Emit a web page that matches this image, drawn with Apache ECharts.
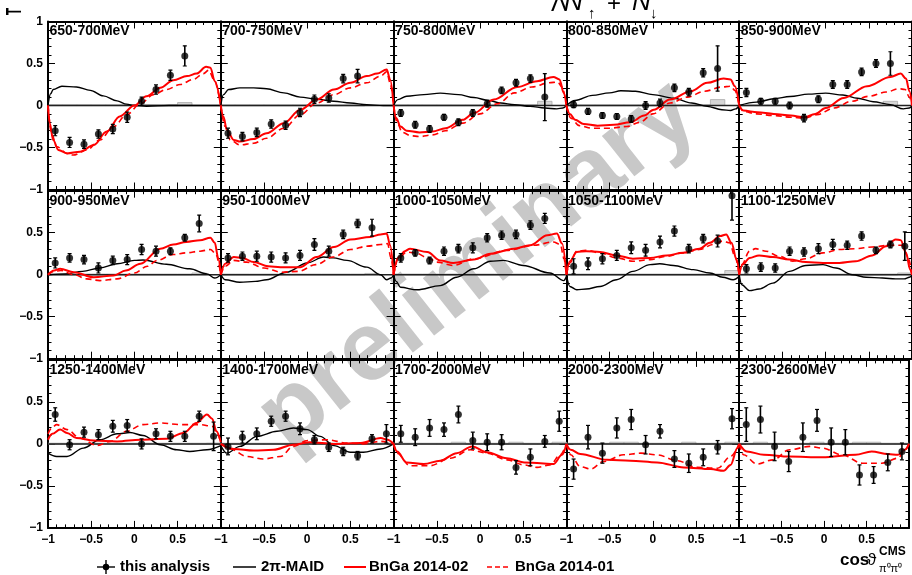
<!DOCTYPE html>
<html><head><meta charset="utf-8">
<script src="https://cdn.jsdelivr.net/npm/echarts/dist/echarts.min.js"></script>
<style>html,body{margin:0;padding:0;background:#fff}#c{width:912px;height:575px}</style>
</head><body><div id="c"></div>
<script>
// ---------- DATA ----------
const energyBins = ['650-700MeV','700-750MeV','750-800MeV','800-850MeV','850-900MeV',
  '900-950MeV','950-1000MeV','1000-1050MeV','1050-1100MeV','1100-1250MeV',
  '1250-1400MeV','1400-1700MeV','1700-2000MeV','2000-2300MeV','2300-2600MeV'];
const cosBins = [-0.9167,-0.75,-0.5833,-0.4167,-0.25,-0.0833,0.0833,0.25,0.4167,0.5833,0.75,0.9167];
const xTicks = [-1,-0.5,0,0.5,1];
const yTicks = [-1,-0.5,0,0.5,1];

const dataY = [
 [-0.30,-0.44,-0.46,-0.34,-0.28,-0.14,0.05,0.19,0.36,0.59,null,null],
 [-0.33,-0.37,-0.32,-0.22,-0.235,-0.083,0.075,0.09,0.32,0.35,null,null],
 [-0.09,-0.23,-0.28,-0.14,-0.2,-0.09,0.02,0.18,0.27,0.32,0.1,null],
 [0.01,-0.07,-0.12,-0.13,-0.16,0.0,0.03,0.21,0.16,0.39,0.44,null],
 [0.155,0.05,0.05,0.0,-0.15,0.075,0.25,0.25,0.4,0.5,0.5,null],
 [0.14,0.2,0.18,0.08,0.17,0.18,0.3,0.28,0.28,0.44,0.61,null],
 [0.2,0.22,0.22,0.21,0.2,0.23,0.36,0.28,0.48,0.61,0.56,null],
 [0.2,0.26,0.17,0.28,0.31,0.32,0.44,0.47,0.48,0.59,0.67,null],
 [0.10,0.13,0.19,0.23,0.32,0.29,0.39,0.52,0.31,0.43,0.40,0.94],
 [0.07,0.09,0.08,0.28,0.27,0.31,0.36,0.35,0.46,0.29,0.36,0.34],
 [0.35,-0.01,0.14,0.11,0.21,0.22,0.0,0.12,0.09,0.09,0.33,0.09],
 [-0.03,0.08,0.12,0.27,0.33,0.18,0.05,-0.04,-0.09,-0.14,0.06,0.12],
 [0.12,0.08,0.19,0.17,0.35,0.04,0.02,0.02,-0.28,-0.16,0.03,0.27],
 [-0.3,0.08,-0.11,0.19,0.29,-0.01,0.15,-0.18,-0.23,-0.16,-0.04,0.3],
 [0.23,0.29,-0.03,-0.21,0.08,0.28,0.02,0.02,-0.37,-0.37,-0.22,-0.09]
];
const dataErr = [
 [0.06,0.06,0.05,0.05,0.055,0.06,0.05,0.055,0.06,0.12,null,null],
 [0.06,0.05,0.05,0.05,0.05,0.05,0.05,0.05,0.05,0.08,null,null],
 [0.04,0.04,0.04,0.035,0.04,0.04,0.04,0.04,0.04,0.045,0.28,null],
 [0.035,0.035,0.035,0.035,0.04,0.045,0.045,0.045,0.045,0.05,0.27,null],
 [0.05,0.035,0.035,0.04,0.045,0.04,0.045,0.045,0.045,0.045,0.14,null],
 [0.06,0.05,0.05,0.06,0.05,0.06,0.06,0.06,0.04,0.04,0.1,null],
 [0.05,0.05,0.06,0.06,0.06,0.06,0.07,0.06,0.05,0.05,0.1,null],
 [0.05,0.04,0.04,0.05,0.05,0.06,0.05,0.05,0.05,0.05,0.06,null],
 [0.09,0.07,0.06,0.06,0.07,0.07,0.07,0.06,0.05,0.05,0.07,0.29],
 [0.05,0.05,0.05,0.05,0.05,0.06,0.06,0.05,0.05,0.04,0.04,0.17],
 [0.08,0.06,0.06,0.06,0.07,0.07,0.06,0.06,0.06,0.06,0.06,0.17],
 [0.1,0.07,0.07,0.06,0.06,0.07,0.05,0.05,0.05,0.05,0.05,0.11],
 [0.1,0.1,0.1,0.08,0.1,0.1,0.1,0.09,0.08,0.1,0.07,0.12],
 [0.12,0.14,0.12,0.12,0.12,0.11,0.08,0.1,0.11,0.1,0.08,0.12],
 [0.2,0.16,0.17,0.12,0.17,0.13,0.17,0.15,0.12,0.1,0.1,0.1]
];
const sysErr = [
 [0.01,0.01,0.01,0.01,0.01,0.01,0.01,0.01,0.01,0.035,0,0],
 [0.008,0.008,0.008,0.008,0.008,0.008,0.008,0.008,0.008,0.008,0,0],
 [0.008,0.008,0.008,0.008,0.008,0.008,0.008,0.008,0.008,0.008,0.05,0],
 [0.008,0.008,0.008,0.008,0.008,0.008,0.008,0.008,0.008,0.008,0.07,0],
 [0.008,0.008,0.008,0.008,0.008,0.008,0.008,0.008,0.008,0.008,0.05,0],
 [0.008,0.008,0.008,0.008,0.008,0.008,0.008,0.008,0.008,0.008,0.02,0],
 [0.008,0.008,0.008,0.008,0.008,0.008,0.008,0.008,0.008,0.008,0.015,0],
 [0.008,0.008,0.008,0.008,0.008,0.008,0.008,0.008,0.008,0.008,0.01,0],
 [0.008,0.008,0.008,0.008,0.008,0.008,0.008,0.008,0.008,0.008,0.008,0.05],
 [0.008,0.008,0.008,0.008,0.008,0.008,0.008,0.008,0.008,0.008,0.008,0.02],
 [0.008,0.008,0.008,0.008,0.008,0.008,0.008,0.008,0.008,0.008,0.008,0.01],
 [0.008,0.008,0.008,0.008,0.008,0.008,0.008,0.008,0.008,0.008,0.008,0.01],
 [0.008,0.008,0.008,0.008,0.02,0.008,0.008,0.008,0.02,0.008,0.008,0.02],
 [0.008,0.008,0.008,0.02,0.02,0.008,0.008,0.008,0.02,0.008,0.008,0.02],
 [0.008,0.02,0.008,0.008,0.008,0.02,0.008,0.008,0.02,0.02,0.008,0.008]
];

// 2pi-MAID curves ([cos, T]) – not available above 1700 MeV
const maidCurves = [
 [[-1,0],[-0.97,0.14],[-0.94,0.19],[-0.84,0.23],[-0.67,0.22],[-0.51,0.18],[-0.36,0.115],[-0.2,0.055],[-0.09,0.016],[0,0],[0.14,-0.01],[0.4,0],[1,0]],
 [[-1,0],[-0.97,0.13],[-0.91,0.19],[-0.78,0.21],[-0.62,0.21],[-0.47,0.2],[-0.27,0.15],[-0.08,0.1],[0.11,0.075],[0.31,0.05],[0.5,0.03],[0.69,0.01],[0.88,0],[1,0]],
 [[-1,0],[-0.95,0.07],[-0.85,0.11],[-0.65,0.13],[-0.46,0.147],[-0.25,0.13],[-0.07,0.095],[0.1,0.06],[0.24,0.03],[0.4,0.01],[0.58,-0.01],[0.75,-0.03],[0.89,-0.04],[0.96,-0.03],[1,0]],
 [[-1,0],[-0.9,0.06],[-0.7,0.12],[-0.5,0.15],[-0.37,0.175],[-0.2,0.17],[0,0.13],[0.24,0.087],[0.45,0.03],[0.63,-0.01],[0.8,-0.05],[0.9,-0.06],[0.96,-0.04],[1,0]],
 [[-1,0],[-0.8,0.04],[-0.6,0.08],[-0.41,0.107],[-0.2,0.135],[0,0.147],[0.2,0.125],[0.37,0.087],[0.55,0.045],[0.75,0.01],[0.9,-0.04],[0.97,-0.03],[1,0]],
 [[-1,0],[-0.8,0.01],[-0.6,0.04],[-0.4,0.08],[-0.2,0.13],[0,0.17],[0.1,0.175],[0.37,0.124],[0.64,0.07],[0.84,0.01],[0.93,-0.04],[1,0]],
 [[-1,0],[-0.95,-0.06],[-0.78,-0.09],[-0.6,-0.08],[-0.47,-0.06],[-0.24,0.03],[0,0.14],[0.19,0.21],[0.3,0.2],[0.46,0.17],[0.69,0.09],[0.85,0.0],[0.92,-0.06],[0.97,-0.04],[1,0]],
 [[-1,0],[-0.97,-0.08],[-0.92,-0.15],[-0.73,-0.18],[-0.46,-0.13],[-0.27,-0.03],[-0.07,0.07],[0.12,0.16],[0.27,0.17],[0.5,0.11],[0.81,0.02],[0.97,-0.07],[1,-0.02]],
 [[-1,0],[-0.96,-0.14],[-0.88,-0.18],[-0.77,-0.17],[-0.61,-0.14],[-0.42,-0.06],[-0.23,0.04],[-0.03,0.12],[0.08,0.13],[0.24,0.11],[0.47,0.06],[0.66,0.02],[0.81,-0.03],[0.93,-0.06],[1,-0.02]],
 [[-1,0],[-0.97,-0.12],[-0.88,-0.19],[-0.77,-0.17],[-0.61,-0.1],[-0.42,0.04],[-0.23,0.11],[-0.03,0.12],[0.12,0.08],[0.31,0.0],[0.47,-0.03],[0.66,-0.04],[0.81,-0.05],[0.91,-0.05],[0.97,-0.03],[1,-0.01]],
 [[-1,-0.11],[-0.9,-0.15],[-0.78,-0.15],[-0.59,-0.05],[-0.4,0.05],[-0.2,0.12],[-0.05,0.135],[0.1,0.1],[0.3,-0.01],[0.49,-0.07],[0.64,-0.09],[0.84,-0.07],[1,-0.02]],
 [[-1,-0.02],[-0.93,-0.11],[-0.78,-0.03],[-0.58,0.09],[-0.35,0.15],[-0.16,0.19],[0,0.17],[0.15,0.09],[0.31,-0.02],[0.5,-0.1],[0.65,-0.1],[0.85,-0.06],[1,0]],
 null, null, null
];
// BnGa 2014-02 (solid red)
const bnga02Curves = [
 [[-1,0],[-0.98,-0.21],[-0.94,-0.41],[-0.88,-0.53],[-0.78,-0.57],[-0.63,-0.55],[-0.47,-0.47],[-0.32,-0.31],[-0.17,-0.13],[0,0],[0.14,0.11],[0.3,0.21],[0.45,0.3],[0.61,0.35],[0.72,0.38],[0.83,0.46],[0.88,0.45],[0.93,0.29],[1,0]],
 [[-1,0],[-0.97,-0.13],[-0.93,-0.29],[-0.85,-0.41],[-0.78,-0.43],[-0.62,-0.4],[-0.47,-0.33],[-0.27,-0.21],[-0.08,-0.05],[0.11,0.07],[0.31,0.19],[0.5,0.27],[0.69,0.35],[0.81,0.38],[0.92,0.43],[0.96,0.31],[1,0]],
 [[-1,0],[-0.97,-0.15],[-0.92,-0.25],[-0.85,-0.3],[-0.7,-0.32],[-0.55,-0.31],[-0.4,-0.27],[-0.2,-0.17],[-0.07,-0.09],[0.16,0.07],[0.43,0.22],[0.66,0.29],[0.85,0.34],[0.92,0.31],[0.97,0.15],[1,0]],
 [[-1,0],[-0.96,-0.1],[-0.9,-0.17],[-0.8,-0.22],[-0.64,-0.24],[-0.45,-0.23],[-0.26,-0.2],[-0.1,-0.12],[0.01,-0.05],[0.2,0.07],[0.44,0.17],[0.63,0.27],[0.82,0.32],[0.9,0.31],[0.95,0.23],[1,0]],
 [[-1,0],[-0.95,-0.06],[-0.79,-0.08],[-0.6,-0.1],[-0.4,-0.12],[-0.25,-0.14],[-0.12,-0.1],[0,-0.03],[0.21,0.09],[0.48,0.23],[0.75,0.34],[0.87,0.38],[0.93,0.32],[0.97,0.17],[1,0]],
 [[-1,0],[-0.93,0.05],[-0.86,0.07],[-0.7,0.03],[-0.47,-0.03],[-0.24,-0.01],[-0.1,0.05],[0.07,0.13],[0.3,0.31],[0.45,0.36],[0.6,0.39],[0.76,0.41],[0.88,0.44],[0.93,0.38],[0.97,0.2],[1,0]],
 [[-1,0],[-0.95,0.13],[-0.85,0.21],[-0.75,0.2],[-0.62,0.15],[-0.45,0.1],[-0.31,0.09],[-0.08,0.09],[0.11,0.21],[0.31,0.33],[0.5,0.42],[0.73,0.45],[0.85,0.48],[0.92,0.49],[0.96,0.35],[1,0]],
 [[-1,0],[-0.95,0.2],[-0.87,0.28],[-0.81,0.31],[-0.61,0.27],[-0.46,0.17],[-0.31,0.14],[-0.07,0.18],[0.12,0.25],[0.39,0.31],[0.58,0.35],[0.78,0.47],[0.89,0.49],[0.95,0.37],[1,0]],
 [[-1,0],[-0.96,0.16],[-0.88,0.27],[-0.77,0.28],[-0.61,0.27],[-0.42,0.23],[-0.23,0.19],[-0.03,0.2],[0.16,0.23],[0.35,0.26],[0.54,0.31],[0.66,0.38],[0.78,0.46],[0.85,0.48],[0.91,0.38],[0.97,0.18],[1,0]],
 [[-1,0],[-0.96,0.12],[-0.88,0.2],[-0.77,0.23],[-0.61,0.21],[-0.42,0.18],[-0.23,0.15],[-0.03,0.14],[0.16,0.14],[0.35,0.16],[0.54,0.23],[0.7,0.34],[0.81,0.42],[0.87,0.41],[0.93,0.26],[0.98,0.06],[1,0]],
 [[-1,0.05],[-0.95,0.12],[-0.86,0.17],[-0.78,0.13],[-0.67,0.07],[-0.47,0.04],[-0.2,0.03],[0.07,0.05],[0.37,0.06],[0.57,0.13],[0.72,0.25],[0.84,0.35],[0.9,0.3],[0.95,0.15],[1,0.02]],
 [[-1,0],[-0.85,-0.06],[-0.62,-0.08],[-0.39,-0.07],[-0.16,-0.01],[0.03,0.02],[0.31,0],[0.62,0.01],[0.85,0.07],[0.93,0.05],[1,0]],
 [[-1,0],[-0.96,-0.09],[-0.85,-0.22],[-0.65,-0.24],[-0.46,-0.2],[-0.27,-0.11],[-0.09,-0.03],[0.08,-0.1],[0.31,-0.17],[0.51,-0.22],[0.7,-0.23],[0.85,-0.24],[0.95,-0.13],[1,0]],
 [[-1,0],[-0.95,-0.07],[-0.84,-0.12],[-0.53,-0.19],[-0.26,-0.2],[0.05,-0.22],[0.36,-0.28],[0.67,-0.3],[0.82,-0.32],[0.9,-0.25],[0.98,-0.05],[1,0]],
 [[-1,0],[-0.91,-0.09],[-0.71,-0.13],[-0.41,-0.15],[-0.02,-0.16],[0.37,-0.13],[0.56,-0.09],[0.75,-0.12],[0.87,-0.13],[0.95,-0.07],[1,0]]
];
// BnGa 2014-01 (dashed red)
const bnga01Curves = [
 [[-1,0],[-0.96,-0.33],[-0.9,-0.49],[-0.78,-0.57],[-0.71,-0.59],[-0.55,-0.53],[-0.4,-0.41],[-0.24,-0.25],[-0.09,-0.11],[0.07,0.02],[0.22,0.13],[0.37,0.19],[0.53,0.25],[0.68,0.31],[0.8,0.38],[0.86,0.42],[0.92,0.31],[1,0]],
 [[-1,0],[-0.95,-0.25],[-0.89,-0.41],[-0.78,-0.47],[-0.62,-0.45],[-0.47,-0.39],[-0.27,-0.27],[-0.08,-0.11],[0.11,0.03],[0.31,0.13],[0.5,0.21],[0.69,0.27],[0.85,0.35],[0.92,0.4],[0.96,0.27],[1,0]],
 [[-1,0],[-0.96,-0.2],[-0.9,-0.32],[-0.8,-0.36],[-0.7,-0.37],[-0.55,-0.35],[-0.4,-0.3],[-0.2,-0.21],[0,-0.1],[0.2,0.02],[0.4,0.15],[0.6,0.22],[0.8,0.27],[0.9,0.28],[0.95,0.22],[1,0]],
 [[-1,0],[-0.95,-0.15],[-0.85,-0.24],[-0.7,-0.27],[-0.5,-0.27],[-0.3,-0.25],[-0.15,-0.2],[0,-0.1],[0.2,0.03],[0.4,0.1],[0.6,0.17],[0.8,0.22],[0.9,0.23],[0.95,0.18],[1,0]],
 [[-1,0],[-0.95,-0.07],[-0.8,-0.1],[-0.6,-0.12],[-0.4,-0.14],[-0.25,-0.15],[-0.1,-0.11],[0.1,-0.03],[0.3,0.05],[0.5,0.11],[0.7,0.16],[0.85,0.2],[0.92,0.19],[0.97,0.1],[1,0]],
 [[-1,0],[-0.93,0.04],[-0.85,0.05],[-0.7,0.0],[-0.55,-0.05],[-0.4,-0.07],[-0.2,-0.05],[0,0.02],[0.15,0.1],[0.26,0.17],[0.45,0.24],[0.6,0.26],[0.76,0.28],[0.88,0.3],[0.94,0.25],[1,0]],
 [[-1,0],[-0.95,0.1],[-0.85,0.17],[-0.7,0.15],[-0.5,0.08],[-0.3,0.03],[-0.1,0.04],[0.1,0.12],[0.3,0.21],[0.5,0.3],[0.7,0.34],[0.85,0.36],[0.93,0.37],[0.97,0.2],[1,0]],
 [[-1,0],[-0.95,0.18],[-0.85,0.27],[-0.75,0.26],[-0.6,0.2],[-0.5,0.15],[-0.31,0.11],[-0.07,0.19],[0.31,0.29],[0.62,0.35],[0.85,0.39],[0.93,0.36],[0.97,0.2],[1,0]],
 [[-1,0],[-0.96,0.14],[-0.88,0.28],[-0.77,0.29],[-0.61,0.26],[-0.42,0.2],[-0.23,0.16],[-0.03,0.18],[0.16,0.22],[0.35,0.26],[0.54,0.3],[0.7,0.36],[0.81,0.4],[0.89,0.38],[0.95,0.22],[1,0]],
 [[-1,0],[-0.97,0.12],[-0.88,0.28],[-0.81,0.31],[-0.69,0.28],[-0.54,0.22],[-0.38,0.16],[-0.23,0.19],[-0.03,0.26],[0.16,0.3],[0.35,0.31],[0.54,0.33],[0.74,0.35],[0.89,0.35],[0.95,0.22],[1,0]],
 [[-1,0.12],[-0.95,0.2],[-0.9,0.23],[-0.78,0.17],[-0.63,0.07],[-0.43,-0.02],[-0.28,0.03],[-0.09,0.15],[0.1,0.23],[0.3,0.25],[0.53,0.23],[0.76,0.23],[0.9,0.21],[0.96,0.12],[1,0.01]],
 [[-1,0],[-0.89,-0.06],[-0.7,-0.15],[-0.51,-0.18],[-0.31,-0.15],[-0.16,-0.03],[0,0.04],[0.23,0.05],[0.46,0.01],[0.65,0],[0.85,0.03],[1,0]],
 [[-1,0],[-0.96,-0.11],[-0.81,-0.26],[-0.58,-0.26],[-0.34,-0.17],[-0.11,-0.07],[0.08,-0.11],[0.31,-0.19],[0.51,-0.25],[0.66,-0.28],[0.81,-0.25],[0.93,-0.13],[1,0]],
 [[-1,0],[-0.95,-0.13],[-0.84,-0.27],[-0.72,-0.3],[-0.57,-0.21],[-0.34,-0.13],[-0.14,-0.11],[0.05,-0.13],[0.28,-0.2],[0.51,-0.28],[0.75,-0.29],[0.9,-0.15],[1,0]],
 [[-1,0],[-0.95,-0.13],[-0.79,-0.24],[-0.6,-0.19],[-0.41,-0.07],[-0.17,-0.03],[-0.02,-0.05],[0.21,-0.13],[0.45,-0.23],[0.68,-0.23],[0.87,-0.17],[0.95,-0.08],[1,0]]
];

// ---------- LAYOUT ----------
const FONT = '"Liberation Sans", Arial, Helvetica, sans-serif';
const NC = 5, colW = 172.8, rowH = 169.2, left0 = 48, top0 = 21.5, panelH = 168;
const fmt = v => (v < 0 ? '\u2212' : '') + String(Math.abs(v));
const binHalf = (cosBins[1] - cosBins[0]) / 2;

const grid = [], xAxis = [], yAxis = [], series = [], graphic = [];

function axisCommon(extra) {
  return Object.assign({
    type: 'value', min: -1, max: 1, interval: 0.5,
    axisLine: { show: true, onZero: false, lineStyle: { color: '#000', width: 2 } },
    axisTick: { show: true, inside: true, length: 7, lineStyle: { color: '#000', width: 1 } },
    minorTick: { show: true, splitNumber: 5, length: 3.5, lineStyle: { color: '#000', width: 1 } },
    splitLine: { show: false }, minorSplitLine: { show: false }
  }, extra);
}
const labelStyle = { color: '#000', fontFamily: FONT, fontWeight: 'bold', fontSize: 12 };

energyBins.forEach((name, i) => {
  const r = Math.floor(i / NC), c = i % NC;
  const gl = left0 + c * colW, gt = top0 + r * rowH;
  grid.push({ left: gl, top: gt, width: colW, height: panelH, containLabel: false });
  xAxis.push(axisCommon({ gridIndex: i, position: 'bottom',
    axisLabel: Object.assign({ show: r === 2, margin: 6, formatter: v => (v === 1 ? '' : fmt(v)) }, labelStyle) }));
  xAxis.push(axisCommon({ gridIndex: i, position: 'top', axisLabel: { show: false } }));
  yAxis.push(axisCommon({ gridIndex: i, position: 'left',
    axisLabel: Object.assign({ show: c === 0, margin: 5, formatter: v => ((r > 0 && v === 1) ? '' : fmt(v)) }, labelStyle) }));
  yAxis.push(axisCommon({ gridIndex: i, position: 'right', axisLabel: { show: false } }));

  const xi = 2 * i, yi = 2 * i;
  // zero line
  series.push({ type: 'line', xAxisIndex: xi, yAxisIndex: yi, data: [[-1, 0], [1, 0]], showSymbol: false,
    lineStyle: { color: '#222', width: 1.5 }, z: 1, silent: true });
  // systematic boxes
  const sysData = cosBins.map((x, k) => [x, sysErr[i][k], dataY[i][k]]).filter(d => d[1] > 0 && d[2] !== null).map(d => [d[0], d[1]]);
  series.push({ type: 'custom', xAxisIndex: xi, yAxisIndex: yi, data: sysData, clip: true, z: 1,
    renderItem: (p, api) => {
      const x = api.value(0), s = api.value(1);
      const a = api.coord([x - binHalf, s]), b = api.coord([x + binHalf, 0]);
      return { type: 'rect', shape: { x: a[0], y: a[1], width: b[0] - a[0], height: Math.max(b[1] - a[1], 1) },
        style: { fill: '#d6d6d6', stroke: '#a8a8a8', lineWidth: 0.8 } };
    } });
  // model curves
  if (maidCurves[i]) series.push({ type: 'line', xAxisIndex: xi, yAxisIndex: yi, data: maidCurves[i], showSymbol: false,
    smooth: 0.35, smoothMonotone: 'x', lineStyle: { color: '#000', width: 1.4 }, z: 2 });
  series.push({ type: 'line', xAxisIndex: xi, yAxisIndex: yi, data: bnga01Curves[i], showSymbol: false,
    smooth: 0.35, smoothMonotone: 'x', lineStyle: { color: '#ff0000', width: 1.6, type: [6, 4] }, z: 2 });
  series.push({ type: 'line', xAxisIndex: xi, yAxisIndex: yi, data: bnga02Curves[i], showSymbol: false,
    smooth: 0.35, smoothMonotone: 'x', lineStyle: { color: '#ff0000', width: 2 }, z: 2 });
  // data points with error bars
  const pts = [];
  cosBins.forEach((x, k) => { if (dataY[i][k] !== null) pts.push([x, dataY[i][k], dataErr[i][k]]); });
  series.push({ type: 'custom', xAxisIndex: xi, yAxisIndex: yi, data: pts, clip: true, z: 4,
    renderItem: (p, api) => {
      const x = api.value(0), y = api.value(1), e = api.value(2);
      const t = api.coord([x, y + e]), b = api.coord([x, y - e]);
      return { type: 'group', children: [
        { type: 'line', shape: { x1: t[0], y1: t[1], x2: b[0], y2: b[1] }, style: { stroke: '#000', lineWidth: 1.6 } },
        { type: 'line', shape: { x1: t[0] - 2, y1: t[1], x2: t[0] + 2, y2: t[1] }, style: { stroke: '#000', lineWidth: 1.2 } },
        { type: 'line', shape: { x1: b[0] - 2, y1: b[1], x2: b[0] + 2, y2: b[1] }, style: { stroke: '#000', lineWidth: 1.2 } }
      ] };
    } });
  series.push({ type: 'scatter', xAxisIndex: xi, yAxisIndex: yi, data: pts.map(d => [d[0], d[1]]),
    symbol: 'circle', symbolSize: 7, itemStyle: { color: '#000' }, z: 5, clip: true });
  // panel label
  graphic.push({ type: 'text', x: gl + 1.5, y: gt + 3, z: 100,
    style: { text: name, font: 'bold 14px ' + FONT, fill: '#000', textAlign: 'left', textVerticalAlign: 'top', align: 'left', verticalAlign: 'top' } });
});

// watermark
graphic.push({ type: 'text', x: 478, y: 266, rotation: 38.5 * Math.PI / 180, z: -10,
  style: { text: 'preliminary', font: 'bold 98px ' + FONT, fill: '#c8c8c8', textAlign: 'center', textVerticalAlign: 'middle', align: 'center', verticalAlign: 'middle' } });

// y-axis title (rotated T)
graphic.push({ type: 'text', x: 15, y: 11.5, rotation: Math.PI / 2, scaleX: 0.6, scaleY: 1.1, z: 100,
  style: { text: 'T', font: 'bold 20px ' + FONT, fill: '#000', textAlign: 'center', textVerticalAlign: 'middle', align: 'center', verticalAlign: 'middle' } });

// top title (clipped)
function T(text, x, y, font, extra) {
  graphic.push(Object.assign({ type: 'text', x: x, y: y, z: 100,
    style: { text: text, font: font, fill: '#000', textAlign: 'left', textVerticalAlign: 'bottom', align: 'left', verticalAlign: 'bottom' } }, extra || {}));
}
T('\u039b', 551, 16, '24px ' + FONT);
T('N', 564, 16, 'italic 26px ' + FONT);
T('\u2191', 588, 21, '15px ' + FONT);
T('+', 607, 16, '24px ' + FONT);
T('N', 632, 16, 'italic 26px ' + FONT);
T('\u2193', 650, 21, '15px ' + FONT);

// x-axis title
T('cos', 840, 569, 'bold 17px ' + FONT);
T('\u03d1', 867, 569, '17px ' + FONT);
T('CMS', 879, 558, 'bold 12px ' + FONT);
T('\u03c0\u2070\u03c0\u2070', 879, 574, '11px ' + FONT);

// legend
const LY = 567;
graphic.push({ type: 'line', z: 100, shape: { x1: 97, y1: LY, x2: 115, y2: LY }, style: { stroke: '#000', lineWidth: 1.4 } });
graphic.push({ type: 'line', z: 100, shape: { x1: 106, y1: LY - 7, x2: 106, y2: LY + 7 }, style: { stroke: '#000', lineWidth: 1.4 } });
graphic.push({ type: 'circle', z: 100, shape: { cx: 106, cy: LY, r: 3.2 }, style: { fill: '#000' } });
graphic.push({ type: 'line', z: 100, shape: { x1: 233, y1: LY, x2: 256, y2: LY }, style: { stroke: '#000', lineWidth: 1.5 } });
graphic.push({ type: 'line', z: 100, shape: { x1: 344, y1: LY, x2: 366, y2: LY }, style: { stroke: '#ff0000', lineWidth: 2 } });
graphic.push({ type: 'line', z: 100, shape: { x1: 487, y1: LY, x2: 510, y2: LY }, style: { stroke: '#ff0000', lineWidth: 1.6, lineDash: [5, 3] } });
function L(text, x) {
  graphic.push({ type: 'text', x: x, y: LY, z: 100,
    style: { text: text, font: 'bold 15px ' + FONT, fill: '#000', textAlign: 'left', textVerticalAlign: 'middle', align: 'left', verticalAlign: 'middle' } });
}
L('this analysis', 120);
L('2\u03c0-MAID', 261);
L('BnGa 2014-02', 369);
L('BnGa 2014-01', 515);

const chart = echarts.init(document.getElementById('c'), null, { renderer: 'canvas' });
chart.setOption({ animation: false, backgroundColor: '#fff', grid, xAxis, yAxis, series, graphic });
</script></body></html>
